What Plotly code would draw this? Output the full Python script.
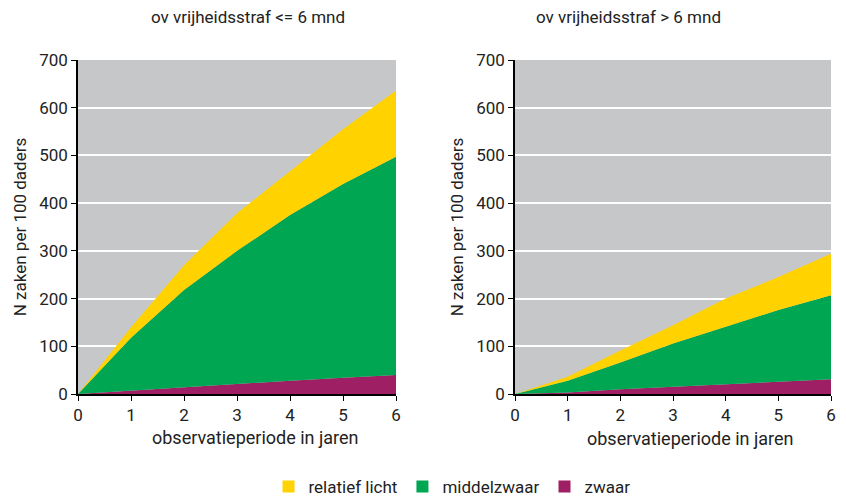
import plotly.graph_objects as go

jaren = [0, 1, 2, 3, 4, 5, 6]

# <= 6 mnd
kort_zwaar = [0, 7, 15, 22, 28, 34, 40]
kort_middelzwaar = [0, 111, 203, 278, 347, 406, 457]
kort_licht = [0, 22, 52, 79, 92, 115, 139]

# > 6 mnd
lang_zwaar = [0, 3, 10, 15, 20, 26, 31]
lang_middelzwaar = [0, 25, 56, 91, 121, 150, 176]
lang_licht = [0, 8, 25, 38, 59, 69, 87]

titels = ["ov vrijheidsstraf <= 6 mnd", "ov vrijheidsstraf > 6 mnd"]
series_namen = ["zwaar", "middelzwaar", "relatief licht"]
legenda_volgorde = ["relatief licht", "middelzwaar", "zwaar"]
kleuren = {"zwaar": "#9E1F63", "middelzwaar": "#00A651", "relatief licht": "#FFD200"}
y_titel = "N zaken per 100 daders"
x_titel = "observatieperiode in jaren"

# page has 8px body margin: figure placed at (8, 8)
OFF = 8
W, H = 846 - OFF, 496 - OFF
FONT = "Roboto, Liberation Sans, sans-serif"
TXT = "#222"


def px(xp):
    return (xp - OFF) / W


def py(yp):
    return 1 - (yp - OFF) / H


fig = go.Figure()

panels = [
    ("x", "y", "links", [kort_zwaar, kort_middelzwaar, kort_licht]),
    ("x2", "y2", "rechts", [lang_zwaar, lang_middelzwaar, lang_licht]),
]
for xa, ya, grp, vals in panels:
    for naam, v in zip(series_namen, vals):
        fig.add_trace(go.Scatter(
            x=jaren, y=v, name=naam, xaxis=xa, yaxis=ya,
            stackgroup=grp, mode="lines", line=dict(width=0, color=kleuren[naam]),
            fillcolor=kleuren[naam], showlegend=False, hoverinfo="x+y+name",
        ))

# legend entries with square markers
for naam in legenda_volgorde:
    fig.add_trace(go.Scatter(
        x=[None], y=[None], name=naam, mode="markers",
        marker=dict(symbol="square", size=14, color=kleuren[naam]),
        showlegend=True,
    ))

top = py(60)
bot = py(394)
dom1 = [px(78), px(396)]
dom2 = [px(515), px(831)]

axis_common = dict(
    showline=True, linecolor="black", linewidth=1.5,
    ticks="outside", ticklen=5, tickcolor="black", tickwidth=1,
    tickfont=dict(size=17, color=TXT, family=FONT),
    zeroline=False, automargin=False,
)
xcommon = dict(axis_common, range=[0, 6], dtick=1, showgrid=False)
ycommon = dict(axis_common, range=[0, 700], dtick=100, showgrid=True,
               gridcolor="white", gridwidth=1.5,
               title=dict(text=y_titel, font=dict(size=17, color=TXT, family=FONT), standoff=8))


def ann(text, x, y, size):
    return dict(text=text, x=px(x), y=py(y), xref="paper", yref="paper",
                xanchor="center", yanchor="middle", showarrow=False,
                font=dict(size=size, family=FONT, color=TXT))


fig.update_layout(
    width=W, height=H,
    margin=dict(l=0, r=0, t=0, b=0, autoexpand=False),
    paper_bgcolor="white",
    plot_bgcolor="#C6C7C9",
    font=dict(family=FONT, color=TXT),
    xaxis=dict(xcommon, domain=dom1, anchor="y"),
    yaxis=dict(ycommon, domain=[bot, top], anchor="x"),
    xaxis2=dict(xcommon, domain=dom2, anchor="y2"),
    yaxis2=dict(ycommon, domain=[bot, top], anchor="x2"),
    legend=dict(orientation="h", x=px(452), xanchor="center", y=py(487), yanchor="middle",
                font=dict(size=17, family=FONT, color=TXT), traceorder="normal",
                itemsizing="constant", bgcolor="rgba(0,0,0,0)"),
    annotations=[
        ann(titels[0], 248, 17, 17),
        ann(titels[1], 628, 17, 17),
        ann(x_titel, 255, 437, 18),
        ann(x_titel, 690, 438, 18),
    ],
)

fig.write_html("out.html")
